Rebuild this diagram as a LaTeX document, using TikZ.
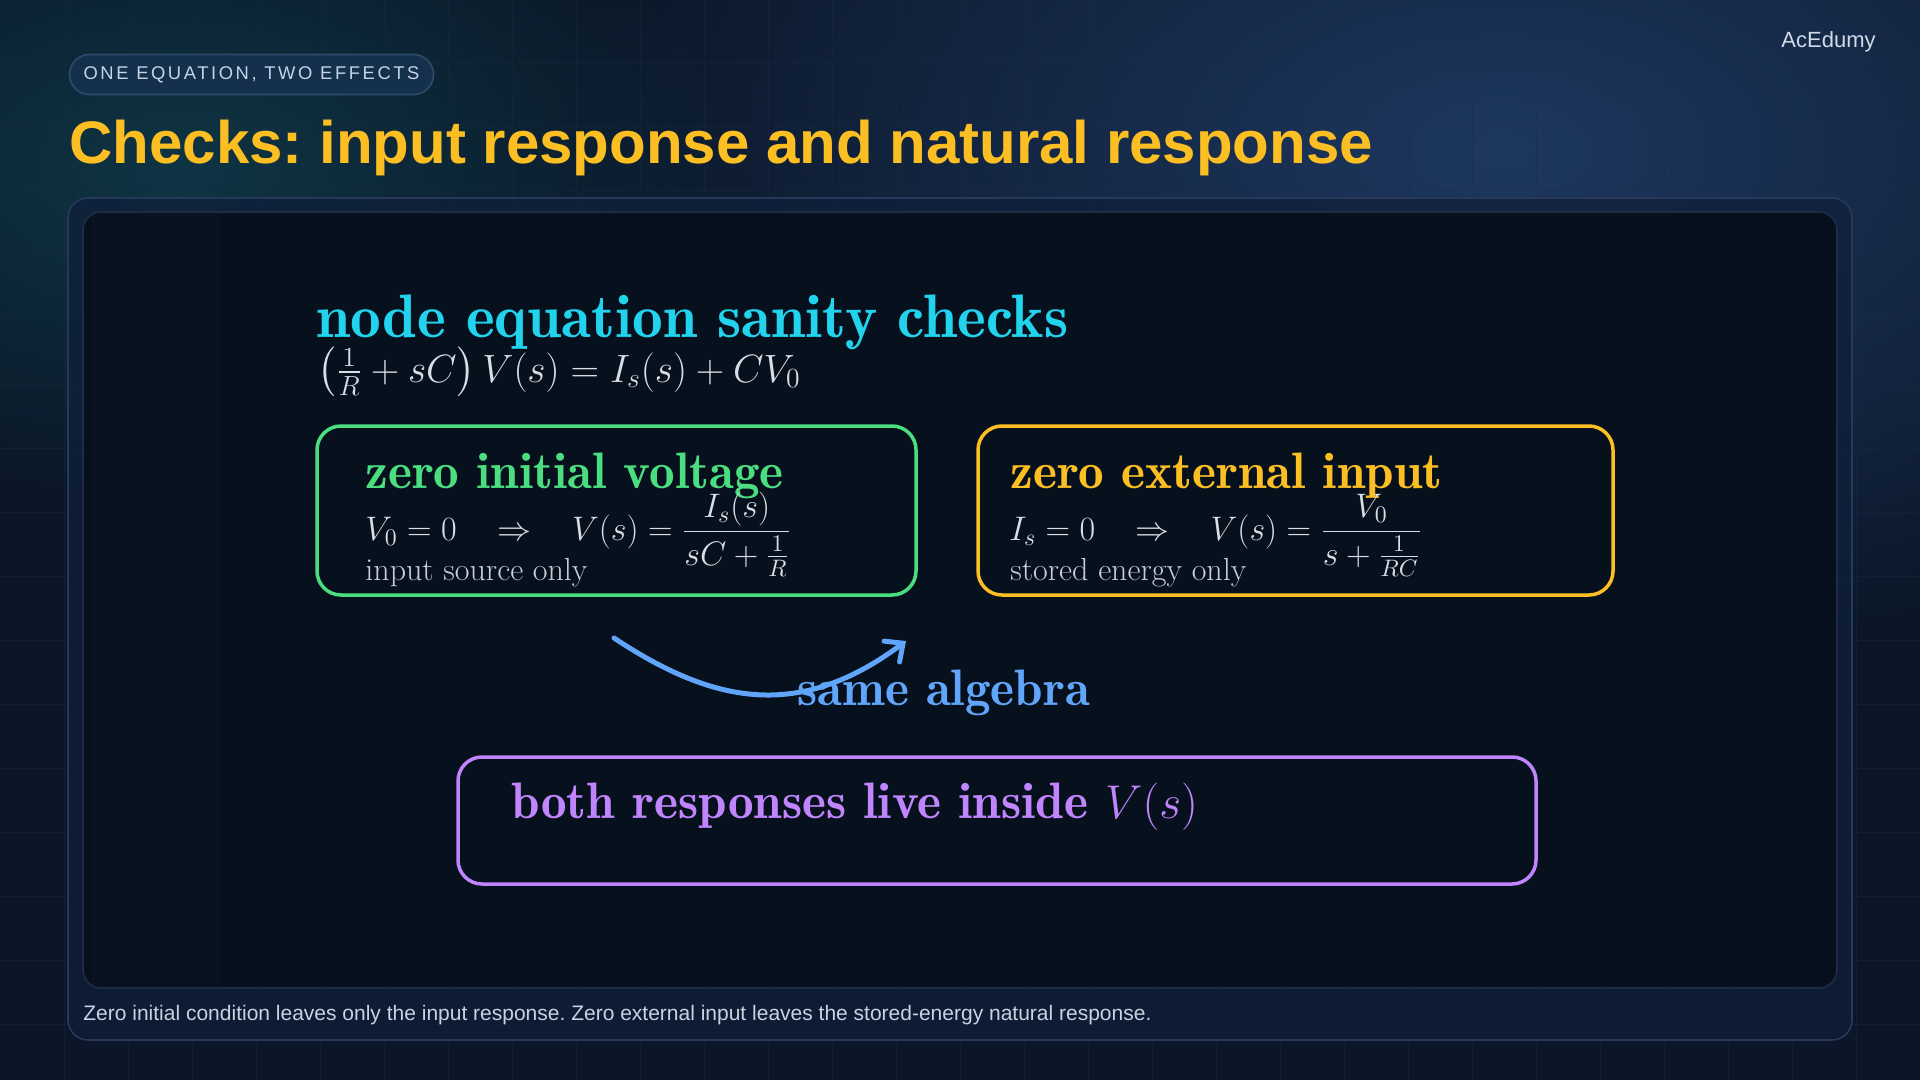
\RequirePackage{fix-cm}
\documentclass[tikz,border=0pt]{standalone}
\usepackage{amsmath}
\usepackage{fontspec}
\usetikzlibrary{arrows.meta,fadings}
\newfontfamily\sansfont{Liberation Sans}
\newfontfamily\pillfont[LetterSpace=14]{Liberation Sans}
\newfontfamily\demifont{lmromandemi10-regular.otf}
\tikzfading[name=glowfade, inner color=transparent!0, outer color=transparent!100]
\definecolor{bgbase}{HTML}{0B1728}
\definecolor{glowtr}{HTML}{1E3860}
\definecolor{glowtl}{HTML}{0F3544}
\definecolor{gridc}{HTML}{1A2C46}
\definecolor{outerfill}{HTML}{0F1F3A}
\definecolor{outerline}{HTML}{27395A}
\definecolor{innerfill}{HTML}{07101D}
\definecolor{innerline}{HTML}{1E2D45}
\definecolor{pillfill}{HTML}{15304D}
\definecolor{pillline}{HTML}{2E4A6B}
\definecolor{pilltext}{HTML}{C5D3E6}
\definecolor{titlec}{HTML}{FBBF24}
\definecolor{brandc}{HTML}{D0DAE8}
\definecolor{captionc}{HTML}{C8D2E0}
\definecolor{cyanc}{HTML}{22D3EE}
\definecolor{mathc}{HTML}{D9DDE5}
\definecolor{notec}{HTML}{C9CED8}
\definecolor{greenc}{HTML}{4ADE80}
\definecolor{orangec}{HTML}{FBBF24}
\definecolor{bluec}{HTML}{60A5FA}
\definecolor{purplec}{HTML}{C084FC}
\frenchspacing
\begin{document}
\begin{tikzpicture}[x=0.5pt,y=-0.5pt,
  txt/.style={inner sep=0pt,anchor=base west},
  hugetxt/.style={txt,font=\demifont\fontsize{30.7}{36}\selectfont},
  bigtxt/.style={txt,font=\demifont\fontsize{25.6}{30}\selectfont},
  eqtxt/.style={txt,font=\fontsize{17}{20}\selectfont,text=mathc},
  notetxt/.style={txt,font=\fontsize{16}{19}\selectfont,text=notec},
  casebox/.style={line width=1.75pt,rounded corners=12pt},
  flow/.style={draw=bluec,line width=2.5pt,line cap=round,-{Straight Barb[length=7pt,width=13pt,line cap=round]}}
]
\useasboundingbox (0,0) rectangle (1920,1080);
% background
\fill[bgbase] (0,0) rectangle (1920,1080);
\fill[glowtr,path fading=glowfade] (1500,150) ellipse (950 and 520);
\fill[glowtl,path fading=glowfade] (180,170) ellipse (560 and 330);
\foreach \gx in {64,128,...,1920} \draw[gridc,line width=0.5pt,opacity=0.35] (\gx,0) -- (\gx,1080);
\foreach \gy in {64,128,...,1080} \draw[gridc,line width=0.5pt,opacity=0.35] (0,\gy) -- (1920,\gy);
% header
\node[draw=pillline,fill=pillfill,line width=0.8pt,rounded corners=10pt,minimum width=182pt,minimum height=20pt,inner sep=0pt] (pill) at (251.5,74.5) {};
\node[anchor=center,inner sep=0pt,text=pilltext,font=\pillfont\fontsize{9.2}{11}\selectfont] (pilltxt) at (pill.center) {ONE EQUATION, TWO EFFECTS};
\node[anchor=base east,inner sep=0pt,text=brandc,font=\sansfont\fontsize{11}{13}\selectfont] (brand) at (1876,48) {AcEdumy};
\node[txt,text=titlec,font=\sansfont\bfseries\fontsize{30}{34}\selectfont] (title) at (69,164) {Checks: input response and natural response};
% panels
\fill[outerfill,opacity=0.72,rounded corners=10pt] (68,198) rectangle (1852,1040);
\draw[outerline,line width=0.8pt,rounded corners=10pt] (68,198) rectangle (1852,1040);
\fill[innerfill,rounded corners=9pt] (83,212) rectangle (1837,988);
\fill[white,opacity=0.012] (92,213) rectangle (220,987);
\draw[innerline,line width=0.8pt,rounded corners=9pt] (83,212) rectangle (1837,988);
\node[txt,text=captionc,font=\sansfont\fontsize{10.5}{12.5}\selectfont] (caption) at (83,1020) {Zero initial condition leaves only the input response. Zero external input leaves the stored-energy natural response.};
% heading and main equation
\node[hugetxt,text=cyanc] (heading) at (316,338) {node equation sanity checks};
\node[txt,text=mathc,font=\fontsize{19.75}{24}\selectfont] (maineq) at (317,382) {$\left(\frac{1}{R}+sC\right)V(s)=I_s(s)+CV_0$};
% case boxes
\draw[casebox,draw=greenc] (317,426) rectangle (916,595);
\node[bigtxt,text=greenc] (zivtitle) at (365,488) {zero initial voltage};
\node[eqtxt] (ziveq) at (365,540) {$V_0=0\hspace{0.92em}\Rightarrow\hspace{0.92em}V(s)=\dfrac{I_s(s)}{sC+\frac{1}{R}}$};
\node[notetxt] (zivnote) at (365,580) {input source only};
\draw[casebox,draw=orangec] (978,426) rectangle (1613,595);
\node[bigtxt,text=orangec] (zeititle) at (1010,488) {zero external input};
\node[eqtxt] (zeieq) at (1009,540) {$I_s=0\hspace{0.92em}\Rightarrow\hspace{0.92em}V(s)=\dfrac{V_0}{s+\frac{1}{RC}}$};
\node[notetxt] (zeinote) at (1010,580) {stored energy only};
% arrow
\coordinate (arrowstart) at (614,638);
\coordinate (arrowend) at (906,641);
\draw[flow] (arrowstart) .. controls (715,705) and (800,720) .. (arrowend);
\node[bigtxt,text=bluec] (same) at (797,705) {same algebra};
% summary
\draw[casebox,draw=purplec] (458,757) rectangle (1536,884);
\node[bigtxt,text=purplec] (summary) at (511,818) {both responses live inside {\fontsize{23.7}{28}\selectfont$V(s)$}};
\end{tikzpicture}
\end{document}
